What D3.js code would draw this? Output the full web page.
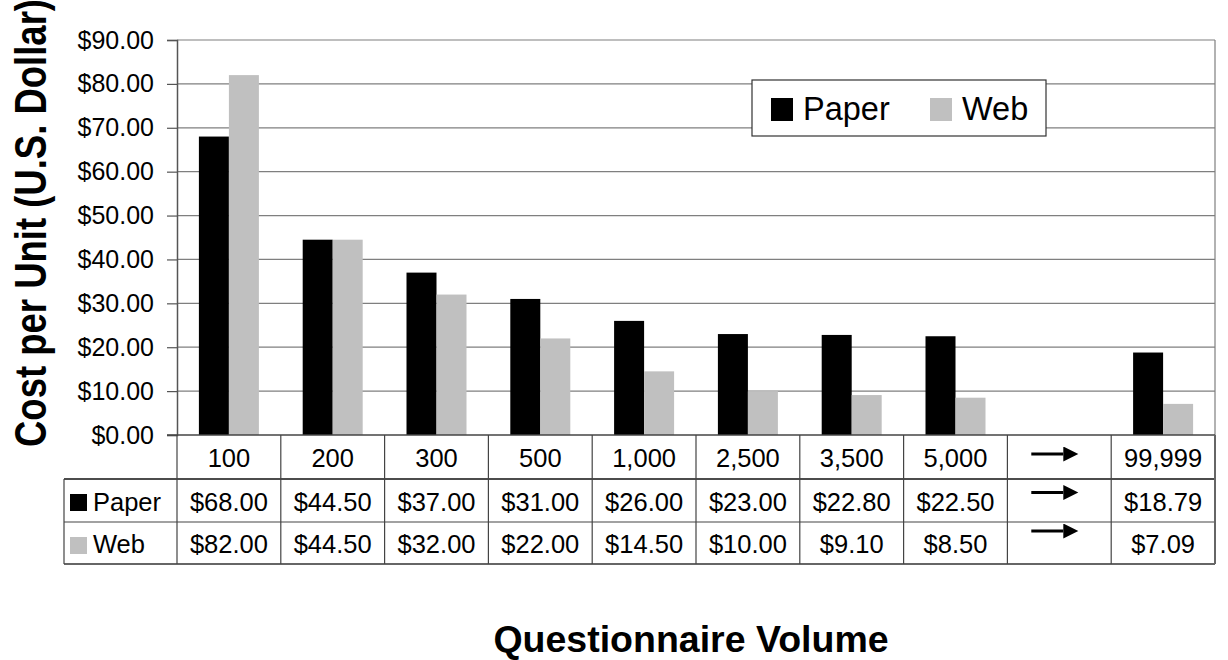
<!DOCTYPE html>
<html>
<head>
<meta charset="utf-8">
<script src="https://cdn.jsdelivr.net/npm/d3@7"></script>
<style>
  html, body { margin: 0; padding: 0; background: #fff; }
  svg { display: block; font-family: "Liberation Sans", Arial, sans-serif; }
</style>
</head>
<body>
<svg id="chart" width="1228" height="660"></svg>
<script>
// Questionnaire volumes (table header row); the empty slot carries an arrow
const categories = ["100", "200", "300", "500", "1,000", "2,500", "3,500", "5,000", "", "99,999"];
const seriesNames = ["Paper", "Web"];
const paperCost = [68.00, 44.50, 37.00, 31.00, 26.00, 23.00, 22.80, 22.50, null, 18.79];
const webCost   = [82.00, 44.50, 32.00, 22.00, 14.50, 10.00, 9.10, 8.50, null, 7.09];
const yTicks = [0, 10, 20, 30, 40, 50, 60, 70, 80, 90];
const colors = { Paper: "#000000", Web: "#c0c0c0" };

const values = { Paper: paperCost, Web: webCost };
const fmtMoney = d => "$" + d.toFixed(2);

const svg = d3.select("#chart");
const plot = { left: 177, right: 1215, top: 40, bottom: 435 };
const rowH = [44, 43, 42];
const rowBaseline = [32, 32, 31];
const tableFont = 25.5;

const x = d3.scaleBand().domain(d3.range(categories.length)).range([plot.left, plot.right]).paddingInner(0).paddingOuter(0);
const xSeries = d3.scaleBand().domain(seriesNames).range([0, x.bandwidth()]).paddingInner(0).paddingOuter(0.73);
const y = d3.scaleLinear().domain([0, 90]).range([plot.bottom, plot.top]);

// horizontal gridlines
svg.append("g")
  .selectAll("line").data(yTicks.slice(1)).join("line")
  .attr("x1", plot.left).attr("x2", plot.right)
  .attr("y1", d => y(d)).attr("y2", d => y(d))
  .attr("stroke", "#7f7f7f").attr("stroke-width", 1.2);

// right edge of plot area
svg.append("line")
  .attr("x1", plot.right).attr("x2", plot.right)
  .attr("y1", plot.top).attr("y2", plot.bottom)
  .attr("stroke", "#7f7f7f").attr("stroke-width", 1.2);

// bars
const groups = svg.append("g").selectAll("g").data(categories).join("g")
  .attr("transform", (d, i) => `translate(${x(i)},0)`);
groups.selectAll("rect")
  .data((d, i) => seriesNames.map(s => ({ s, v: values[s][i] })).filter(e => e.v != null))
  .join("rect")
  .attr("x", e => xSeries(e.s))
  .attr("width", xSeries.bandwidth())
  .attr("y", e => y(e.v))
  .attr("height", e => y(0) - y(e.v))
  .attr("fill", e => colors[e.s]);

// y axis
const yAxis = svg.append("g")
  .attr("transform", `translate(${plot.left},0)`)
  .call(d3.axisLeft(y).tickValues(yTicks).tickFormat(fmtMoney).tickSize(10).tickPadding(13));
yAxis.select(".domain").attr("stroke", "#555").attr("stroke-width", 1.5);
yAxis.selectAll(".tick line").attr("stroke", "#555").attr("stroke-width", 1.2);
yAxis.selectAll(".tick text")
  .attr("font-family", "Liberation Sans, Arial, sans-serif")
  .attr("font-size", 25).attr("fill", "#000");

// baseline
svg.append("line")
  .attr("x1", plot.left - 10).attr("x2", plot.right)
  .attr("y1", plot.bottom).attr("y2", plot.bottom)
  .attr("stroke", "#444").attr("stroke-width", 1.5);

// data table below the axis
const table = svg.append("g");
const tableLeft = 64;
const rowTop = [plot.bottom, plot.bottom + rowH[0], plot.bottom + rowH[0] + rowH[1]];
const tableBottom = rowTop[2] + rowH[2];
const lineColor = "#444";

// horizontal rules
table.append("line").attr("x1", tableLeft).attr("x2", plot.right)
  .attr("y1", rowTop[1]).attr("y2", rowTop[1]).attr("stroke", "#111").attr("stroke-width", 1.3);
table.append("line").attr("x1", tableLeft).attr("x2", plot.right)
  .attr("y1", rowTop[2]).attr("y2", rowTop[2]).attr("stroke", lineColor).attr("stroke-width", 1.2);
table.append("line").attr("x1", tableLeft).attr("x2", plot.right)
  .attr("y1", tableBottom).attr("y2", tableBottom).attr("stroke", "#666").attr("stroke-width", 2);

// vertical rules
const colEdges = d3.range(categories.length + 1).map(i => i < categories.length ? x(i) : plot.right);
table.selectAll("line.col").data(colEdges).join("line").attr("class", "col")
  .attr("x1", d => d).attr("x2", d => d)
  .attr("y1", plot.bottom).attr("y2", tableBottom)
  .attr("stroke", (d, i) => i === colEdges.length - 1 ? "#666" : lineColor)
  .attr("stroke-width", (d, i) => i === colEdges.length - 1 ? 2 : 1.2);
table.append("line").attr("x1", tableLeft).attr("x2", tableLeft)
  .attr("y1", rowTop[1]).attr("y2", tableBottom).attr("stroke", lineColor).attr("stroke-width", 1.2);

const cellText = (txt, cx, row) => table.append("text")
  .attr("x", cx).attr("y", rowTop[row] + rowBaseline[row]).attr("text-anchor", "middle")
  .attr("font-size", tableFont).attr("fill", "#000").text(txt);

// arrow marker for the open-ended gap column
svg.append("defs").append("marker")
  .attr("id", "arrowhead").attr("viewBox", "0 0 10 10")
  .attr("refX", 0).attr("refY", 5)
  .attr("markerUnits", "userSpaceOnUse")
  .attr("markerWidth", 16).attr("markerHeight", 15).attr("orient", "auto")
  .append("path").attr("d", "M0,0 L10,5 L0,10 Z").attr("fill", "#000");

const arrowOffsets = [-3, -8, -12];
const drawArrow = (i, row) => {
  const cx = x(i) + x.bandwidth() / 2;
  const cy = rowTop[row] + rowH[row] / 2 + arrowOffsets[row];
  table.append("line")
    .attr("x1", cx - 28).attr("x2", cx + 4)
    .attr("y1", cy).attr("y2", cy)
    .attr("stroke", "#000").attr("stroke-width", 3)
    .attr("marker-end", "url(#arrowhead)");
};

categories.forEach((c, i) => {
  const cx = x(i) + x.bandwidth() / 2;
  if (c === "") drawArrow(i, 0);
  else cellText(c, cx, 0);
  seriesNames.forEach((s, r) => {
    const v = values[s][i];
    if (v == null) drawArrow(i, r + 1);
    else cellText(fmtMoney(v), cx, r + 1);
  });
});

// series keys in the table's first column
seriesNames.forEach((s, r) => {
  const top = rowTop[r + 1];
  table.append("rect").attr("x", 70).attr("y", top + 15).attr("width", 17).attr("height", 17).attr("fill", colors[s]);
  table.append("text").attr("x", 93).attr("y", top + rowBaseline[r + 1])
    .attr("font-size", tableFont).attr("fill", "#000").text(s);
});

// legend
const legend = svg.append("g");
legend.append("rect").attr("x", 752).attr("y", 80).attr("width", 294).attr("height", 56)
  .attr("fill", "#fff").attr("stroke", "#333").attr("stroke-width", 1.2);
const legendX = { Paper: 771, Web: 930 };
seriesNames.forEach(s => {
  legend.append("rect").attr("x", legendX[s]).attr("y", 98).attr("width", 22).attr("height", 23).attr("fill", colors[s]);
  legend.append("text").attr("x", legendX[s] + 32).attr("y", 120)
    .attr("font-size", 32.5).attr("fill", "#000").text(s);
});

// axis titles
svg.append("text")
  .attr("transform", "translate(46,223) rotate(-90) scale(1,1.2)")
  .attr("text-anchor", "middle")
  .attr("font-size", 36.5).attr("font-weight", "bold").attr("fill", "#000")
  .text("Cost per Unit (U.S. Dollar)");

svg.append("text")
  .attr("x", 691).attr("y", 652)
  .attr("text-anchor", "middle")
  .attr("font-size", 37.5).attr("font-weight", "bold").attr("fill", "#000")
  .text("Questionnaire Volume");
</script>
</body>
</html>
